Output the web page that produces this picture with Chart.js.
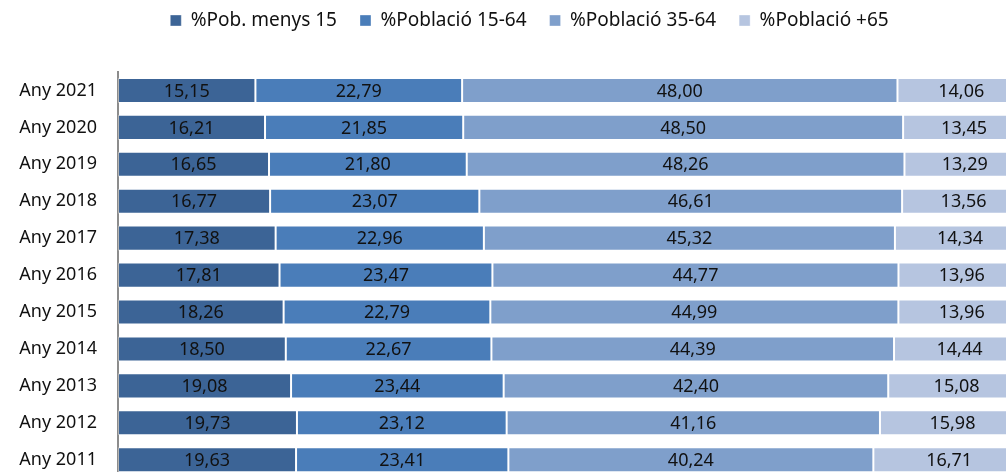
<!DOCTYPE html>
<html>
<head>
<meta charset="utf-8">
<script src="https://cdn.jsdelivr.net/npm/chart.js@4"></script>
<style>
  html, body { margin: 0; padding: 0; background: #fff; overflow: hidden; }
  #wrap { width: 1040px; height: 502px; }
</style>
</head>
<body>
<div id="wrap"><canvas id="grafic" width="1040" height="502"></canvas></div>
<script>
// Dades del gràfic
const anys = ['Any 2021', 'Any 2020', 'Any 2019', 'Any 2018', 'Any 2017', 'Any 2016',
              'Any 2015', 'Any 2014', 'Any 2013', 'Any 2012', 'Any 2011'];
const menys15 = [15.15, 16.21, 16.65, 16.77, 17.38, 17.81, 18.26, 18.50, 19.08, 19.73, 19.63];
const pob1564 = [22.79, 21.85, 21.80, 23.07, 22.96, 23.47, 22.79, 22.67, 23.44, 23.12, 23.41];
const pob3564 = [48.00, 48.50, 48.26, 46.61, 45.32, 44.77, 44.99, 44.39, 42.40, 41.16, 40.24];
const pob65   = [14.06, 13.45, 13.29, 13.56, 14.34, 13.96, 13.96, 14.44, 15.08, 15.98, 16.71];
const noms = ['%Pob. menys 15', '%Població 15-64', '%Població 35-64', '%Població +65'];
const colors = ['#3C6496', '#4A7DB9', '#7F9FCB', '#B6C5E0'];

const FONT = 'Noto Sans';

// Etiquetes de valor al centre de cada segment
const etiquetes = {
    id: 'etiquetes',
    afterDatasetsDraw(chart) {
        const ctx = chart.ctx;
        ctx.save();
        ctx.font = '18px "' + FONT + '"';
        ctx.fillStyle = '#111';
        ctx.textAlign = 'center';
        ctx.textBaseline = 'middle';
        chart.data.datasets.forEach((ds, i) => {
            chart.getDatasetMeta(i).data.forEach((bar, j) => {
                const x = (bar.x + bar.base) / 2;
                ctx.fillText(ds.data[j].toFixed(2).replace('.', ','), x, bar.y + 1);
            });
        });
        ctx.restore();
    }
};

// Llegenda: alçada fixa i desplaçament
const espaiLlegenda = {
    id: 'espaiLlegenda',
    beforeInit(chart) {
        const fit = chart.legend.fit;
        chart.legend.fit = function () {
            fit.bind(chart.legend)();
            this.height = 72;
        };
    },
    afterLayout(chart) {
        const lg = chart.legend;
        lg.top -= 12;
        lg.bottom -= 12;
        lg.left += 17;
        lg.right += 17;
    }
};

const datasets = [menys15, pob1564, pob3564, pob65].map((d, i) => ({
    label: noms[i],
    data: d,
    backgroundColor: colors[i],
    borderColor: 'rgba(255,255,255,0.35)',
    borderWidth: 1,
    borderSkipped: false,
    categoryPercentage: 1,
    barPercentage: 0.68
}));

new Chart(document.getElementById('grafic'), {
    type: 'bar',
    data: { labels: anys, datasets: datasets },
    plugins: [etiquetes, espaiLlegenda],
    options: {
        indexAxis: 'y',
        responsive: false,
        animation: false,
        devicePixelRatio: 1,
        layout: { padding: { right: 15, bottom: 3 } },
        plugins: {
            legend: {
                position: 'top',
                labels: {
                    boxWidth: 11,
                    boxHeight: 11,
                    padding: 23,
                    color: '#111',
                    font: { family: FONT, size: 19 }
                }
            },
            tooltip: { enabled: false }
        },
        scales: {
            x: {
                stacked: true,
                min: 0,
                max: 100,
                display: false
            },
            y: {
                stacked: true,
                grid: { display: false },
                border: { display: true, color: '#8c8c8c', width: 2 },
                ticks: {
                    color: '#111',
                    padding: 13,
                    font: { family: FONT, size: 18 }
                },
                afterFit(scale) { scale.width = 118; }
            }
        }
    }
});
</script>
</body>
</html>
